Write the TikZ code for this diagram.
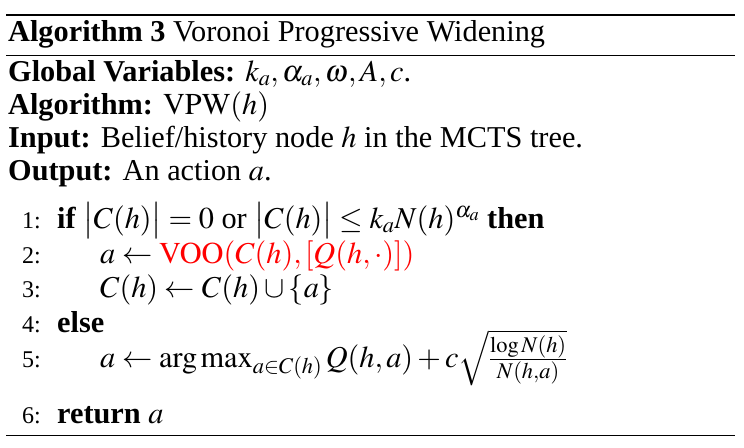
\documentclass[tikz,border=0pt]{standalone}
\usepackage{mathptmx}
\usepackage{fontspec}
\setmainfont{Liberation Serif}
\begin{document}
\begin{tikzpicture}[x=1pt,y=-1pt,
  txt/.style={anchor=base west,inner sep=0pt,font=\fontsize{30.3}{36}\selectfont},
  num/.style={anchor=base west,inner sep=0pt,font=\fontsize{24}{29}\selectfont},
  rulethick/.style={line width=2.4pt},
  rulethin/.style={line width=1pt}]
\useasboundingbox (0,0) rectangle (744,447);
\coordinate (tl) at (6,15); \coordinate (tr) at (735,15);
\coordinate (ml) at (6,55); \coordinate (mr) at (735,55);
\coordinate (bl) at (6,435); \coordinate (br) at (735,435);
\draw[rulethick] (tl) -- (tr);
\draw[rulethin] (ml) -- (mr);
\draw[rulethin] (bl) -- (br);
\node[txt] (title) at (8,41.5) {\textbf{Algorithm 3} Voronoi Progressive Widening};
\node[txt] (glob) at (8,81) {\textbf{Global Variables:} $k_a,\alpha_a,\omega,A,c$.};
\node[txt] (alg) at (8,114) {\textbf{Algorithm:} $\mathrm{VPW}(h)$};
\node[txt] (inp) at (8,147) {\textbf{Input:} Belief/history node $h$ in the MCTS tree.};
\node[txt] (outp) at (8,180) {\textbf{Output:} An action $a$.};
\node[num] (n1) at (22,228) {1:};
\node[num] (n2) at (22,263) {2:};
\node[num] (n3) at (22,297) {3:};
\node[num] (n4) at (22,332) {4:};
\node[num] (n5) at (22,367) {5:};
\node[num] (n6) at (22,423) {6:};
\node[txt] (l1) at (57,228) {\textbf{if} $\bigl|C(h)\bigr|=0$ or $\bigl|C(h)\bigr|\le k_aN(h)^{\alpha_a}$ \textbf{then}};
\node[txt] (l2) at (100,263) {$a\leftarrow{}$\textcolor{red}{$\mathrm{VOO}(C(h),[Q(h,\cdot)])$}};
\node[txt] (l3) at (100,297) {$C(h)\leftarrow C(h)\cup\{a\}$};
\node[txt] (l4) at (57,332) {\textbf{else}};
\node[txt] (l5) at (100,367) {$a\leftarrow \arg\max_{a\in C(h)} Q(h,a)+c\sqrt{\frac{\log N(h)}{N(h,a)}}$};
\node[txt] (l6) at (57,423) {\textbf{return} $a$};
\end{tikzpicture}
\end{document}
